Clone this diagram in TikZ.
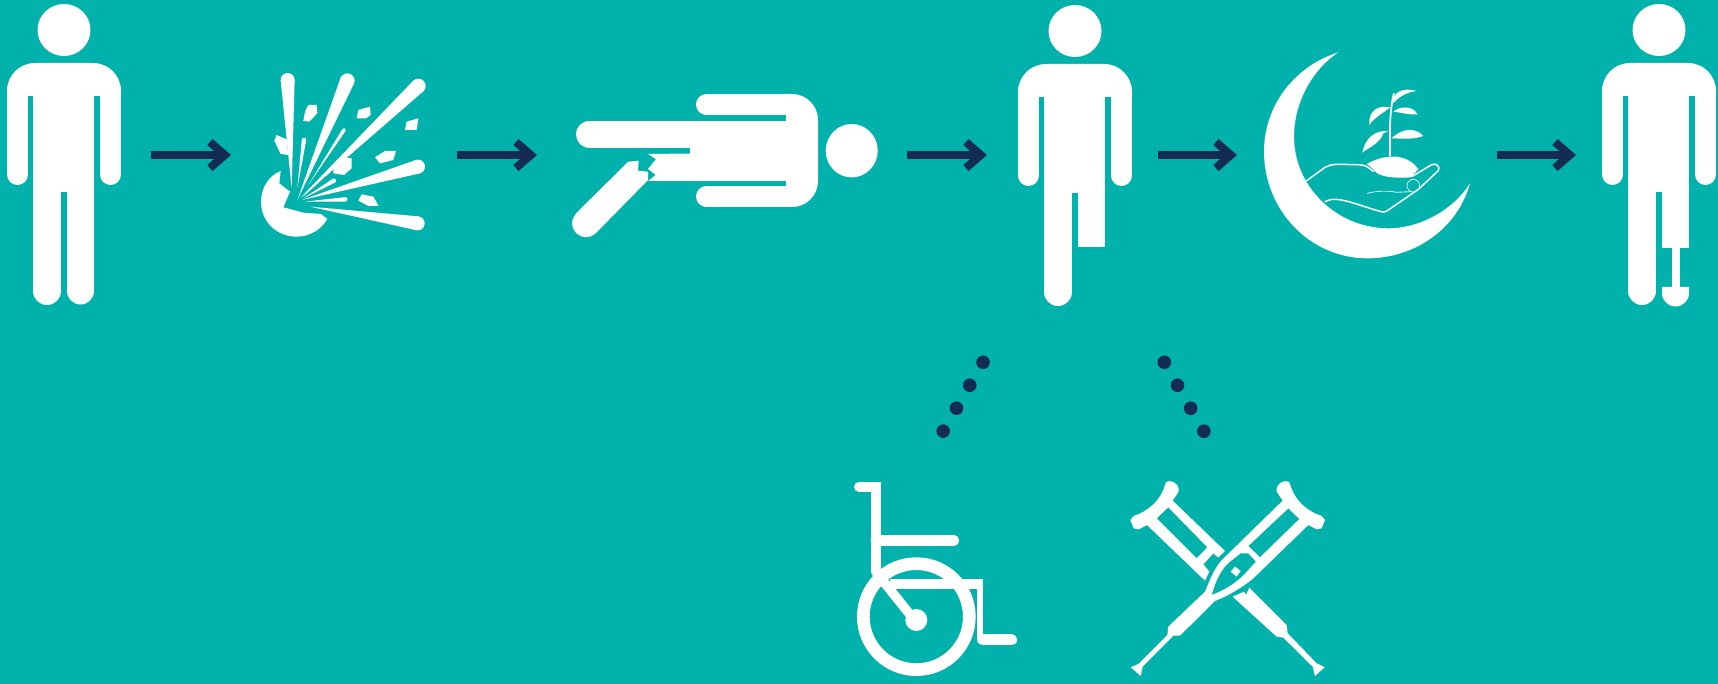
\documentclass[tikz,border=0pt]{standalone}
\usetikzlibrary{arrows.meta,calc}

\definecolor{tealback}{HTML}{00B2AB}
\definecolor{navydark}{HTML}{152C52}

\tikzset{
    iconslot/.style={inner sep=0pt, outer sep=0pt, minimum height=2pt},
    flowarrow/.style={navydark, line width=7.2pt,
        -{Straight Barb[length=15pt, width=26pt, line width=8pt]}},
    dotlink/.style={navydark, line width=13.6pt, line cap=round,
        dash pattern=on 0pt off 26.5pt},
    limb/.style={white, line cap=round},
    chairbar/.style={white, line cap=round, line width=#1},
    handline/.style={white, line width=1.5pt, line cap=round, line join=round},
    handfaint/.style={white!75!tealback, line width=0.9pt, line cap=round},
    manbase/.pic={
        \fill[white] (64,30) ellipse (26.5 and 26);
        \fill[white] (7,96) -- (7,91) .. controls (7,75.5) and (19.5,63) .. (35,63)
            -- (93,63) .. controls (108.5,63) and (121,75.5) .. (121,91) -- (121,96) -- cycle;
        \fill[white] (33,90) rectangle (94,192);
        \draw[limb, line width=21pt] (17.5,90) -- (17.5,174.5);
        \draw[limb, line width=21pt] (110.5,90) -- (110.5,174.5);
        \draw[limb, line width=28pt] (47,185) -- (47,291);
    }
}

\begin{document}
\begin{tikzpicture}[x=1pt, y=-1pt]
    \fill[tealback] (0,0) rectangle (1718,684);

    % slots around the icons of the top row, the arrows run between them
    \node[iconslot, minimum width=151pt] (man1) at (75.5,155) {};
    \node[iconslot, minimum width=226pt] (blast) at (344,155) {};
    \node[iconslot, minimum width=370pt] (victim) at (722,155) {};
    \node[iconslot, minimum width=171pt] (man2) at (1072.5,155) {};
    \node[iconslot, minimum width=260pt] (moon) at (1367,155) {};
    \node[iconslot, minimum width=142pt] (man3) at (1647,155) {};

    \draw[flowarrow] (man1.east) -- (blast.west);
    \draw[flowarrow] (blast.east) -- (victim.west);
    \draw[flowarrow] (victim.east) -- (man2.west);
    \draw[flowarrow] (man2.east) -- (moon.west);
    \draw[flowarrow] (moon.east) -- (man3.west);

    % whole man
    \pic at (0,0) {manbase};
    \draw[limb, line width=27pt] (80.5,185) -- (80.5,291);

    % explosion, in pixels of a 3x crop
    \begin{scope}[shift={(240,50)}, x=0.3333pt, y=-0.3333pt]
        \foreach \ox/\oy/\ex/\ey/\rad in {
            155/415/143/90/7, 172/415/192/270/2.2, 172/450/322/92/7.3,
            205/405/312/240/1.8, 180/445/535/108/7.3, 190/445/282/392/2.2,
            190/440/285/345/1.8, 185/450/534/350/7, 195/455/316/448/2.2,
            210/470/533/520/7} {
            \fill[white] (\ox,\oy) -- ($(\ex,\ey)!\rad pt!90:(\ox,\oy)$)
                -- ($(\ex,\ey)!\rad pt!-90:(\ox,\oy)$) -- cycle;
            \fill[white] (\ex,\ey) circle (\rad pt);
        }
        % flying pieces
        \fill[white] (205,165) -- (230,165) -- (232,190) -- (208,215) -- (190,213) -- (195,185) -- cycle;
        \fill[white] (355,180) -- (390,170) -- (392,195) -- (378,205) -- (350,205) -- cycle;
        \fill[white] (500,215) -- (535,205) -- (530,240) -- (495,240) -- cycle;
        \fill[white] (405,322) -- (435,303) -- (468,303) -- (460,330) -- (420,340) -- cycle;
        \fill[white] (280,355) -- (312,322) -- (335,325) -- (335,355) -- (312,375) -- (280,370) -- cycle;
        \fill[white] (365,433) -- (400,440) -- (416,468) -- (385,468) -- (355,452) -- cycle;
        \fill[white] (110,255) -- (140,268) -- (145,315) -- (122,312) -- (103,272) -- cycle;
        % broken ball
        \fill[white] (122,363) .. controls (85,378) and (63,415) .. (63,455)
            .. controls (63,515) and (110,560) .. (170,560)
            .. controls (208,560) and (243,540) .. (262,507)
            -- (243,492) -- (190,488) -- (130,472) -- (150,425) -- (118,400) -- cycle;
    \end{scope}

    % man lying down
    \fill[white] (851.7,150.7) ellipse (26 and 26.7);
    \fill[white] (786,94) -- (792,94) .. controls (806.4,94) and (818,105.6) .. (818,120)
        -- (818,181) .. controls (818,195.4) and (806.4,207) .. (792,207) -- (786,207) -- cycle;
    \draw[limb, line width=21pt] (706.5,104.5) -- (790,104.5);
    \draw[limb, line width=21pt] (706.5,196.5) -- (790,196.5);
    \fill[white] (690,120.7) rectangle (790,180.7);
    \draw[limb, line width=27pt] (589.5,134.3) -- (690,134.3);
    \fill[white] (648,154) -- (656,159) -- (648,169) -- (655.7,175) -- (648,181)
        -- (691,181) -- (691,153.5) -- cycle;
    \fill[white] (628.3,161.7) -- (638.7,160.7) -- (638,170.7) -- (648,171.7) -- (648,180)
        -- (595.7,233.3) -- (576,213.3) -- cycle;
    \fill[white] (586,223.3) circle (13.9);

    % man after the amputation
    \pic at (1011,1) {manbase};
    \fill[white] (1078,185) rectangle (1105,247);

    % crescent with the hand and the plant
    \begin{scope}[shift={(1250,40)}, x=0.3333pt, y=-0.3333pt]
        \fill[white] (265,37) .. controls (130,80) and (42,200) .. (42,335)
            .. controls (42,510) and (180,655) .. (352,655)
            .. controls (495,655) and (623,565) .. (660,430)
            .. controls (610,510) and (510,565) .. (415,565)
            .. controls (260,565) and (132,440) .. (132,290)
            .. controls (132,190) and (185,90) .. (265,37) -- cycle;
    \end{scope}
    \begin{scope}[shift={(1290,150)}, x=0.3333pt, y=-0.3333pt]
        \draw[handline] (50,92) -- (105,52) .. controls (115,46) and (125,44) .. (140,43)
            -- (205,44) .. controls (225,45) and (235,50) .. (250,65);
        \fill[white] (230,42) .. controls (260,25) and (290,18) .. (320,20)
            .. controls (350,24) and (372,38) .. (385,58)
            .. controls (375,68) and (368,76) .. (362,82)
            .. controls (330,84) and (290,84) .. (265,72)
            .. controls (250,62) and (245,50) .. (230,42) -- cycle;
        \draw[handline] (365,80) -- (425,44) .. controls (438,38) and (452,50) .. (445,62)
            -- (385,118) -- (295,180) .. controls (288,186) and (282,188) .. (270,184)
            .. controls (225,172) and (180,152) .. (140,148) .. controls (125,147) and (115,150) .. (105,155);
        \draw[handfaint] (370,107) circle (19);
        \draw[handfaint] (232,130) .. controls (260,122) and (300,122) .. (320,127) -- (360,125);
    \end{scope}
    \begin{scope}[shift={(1300,75)}, x=0.3333pt, y=-0.3333pt]
        \draw[white, line width=1.8pt] (270,243) -- (270,150) .. controls (272,110) and (275,80) .. (282,55);
        \fill[white] (280,85) .. controls (275,55) and (305,35) .. (350,48) .. controls (330,50) and (300,60) .. (280,85) -- cycle;
        \fill[white] (270,97) .. controls (235,90) and (205,105) .. (208,150) .. controls (225,125) and (250,115) .. (270,97) -- cycle;
        \fill[white] (280,110) .. controls (300,92) and (340,92) .. (352,118) .. controls (325,120) and (300,112) .. (280,110) -- cycle;
        \fill[white] (265,168) .. controls (225,165) and (195,190) .. (187,233) .. controls (210,215) and (240,205) .. (250,175) -- cycle;
        \fill[white] (275,190) .. controls (310,155) and (350,160) .. (370,183) .. controls (340,195) and (300,190) .. (275,190) -- cycle;
    \end{scope}

    % man with the artificial leg
    \pic at (1595,0) {manbase};
    \fill[white] (1662,185) rectangle (1689,248);
    \fill[white] (1672,248) rectangle (1680,288);
    \fill[white] (1662,287) -- (1689,287) -- (1689,293) .. controls (1689,300.5) and (1683,306.5) .. (1675.5,306.5)
        .. controls (1668,306.5) and (1662,300.5) .. (1662,293) -- cycle;

    % dots down to the wheelchair and the crutches
    \coordinate (dotschair) at (983,362.3);
    \coordinate (chairtop) at (943,431.5);
    \coordinate (dotscrutch) at (1164.3,362.3);
    \coordinate (crutchtop) at (1204,431.5);
    \draw[dotlink] (dotschair) -- (chairtop);
    \draw[dotlink] (dotscrutch) -- (crutchtop);

    % wheelchair
    \begin{scope}[shift={(840,470)}, x=0.3333pt, y=-0.3333pt]
        \draw[chairbar=10pt] (57,50) -- (107,50) -- (107,300);
        \draw[chairbar=10.5pt] (107,211) -- (342,211);
        \draw[white, line width=12.7pt] (229,440) circle (159);
        \fill[white] (229,450) circle (33);
        \draw[chairbar=9.5pt] (107,305) -- (215,440);
        \draw[white, line width=10pt] (150,342) -- (428,342);
        \draw[white, line width=5.5pt] (420,337) -- (420,510);
        \draw[chairbar=11pt] (428,510) -- (515,510);
    \end{scope}

    % crutches
    \begin{scope}[shift={(1120,470)}, x=0.3333pt, y=-0.3333pt]
        % back one, upper and lower piece
        \fill[white, even odd rule] (158,92) -- (176,65) .. controls (180,50) and (165,33) .. (148,33)
            .. controls (140,33) and (136,38) .. (136,42) .. controls (121,95) and (81,125) .. (41,138)
            -- (31,150) -- (41,175) -- (56,178) -- (81,165) -- (255,332) -- (268,305) -- (250,283)
            -- (280,250) -- (295,263) -- (315,243) -- cycle
            (110,145) -- (145,112) -- (262,232) -- (230,265) -- cycle;
        \fill[white] (338,380) -- (372,365) -- (378,375) -- (388,353) -- (500,465) -- (503,490)
            -- (590,580) -- (614,592) -- (585,618) -- (578,590) -- (490,503) -- (470,500) -- cycle;
        % front one, with its two windows and the grip
        \fill[white, even odd rule] (488,92) -- (470,65) .. controls (466,50) and (481,33) .. (498,33)
            .. controls (506,33) and (510,38) .. (510,42) .. controls (525,95) and (565,125) .. (605,138)
            -- (615,150) -- (605,175) -- (590,178) -- (565,165)
            -- (400,325) .. controls (370,350) and (330,375) .. (285,393)
            -- (180,497) -- (160,497) -- (68,590) -- (62,618) -- (32,592) -- (55,582) -- (142,495) -- (145,470)
            -- (255,365) .. controls (270,330) and (285,285) .. (318,258) -- cycle
            (505,115) -- (538,147) -- (420,262) -- (385,228) -- cycle
            (385,250) -- (408,275) -- (385,300) .. controls (355,335) and (320,358) .. (275,375)
            .. controls (285,340) and (300,300) .. (330,275) -- (362,250) -- cycle
            (345,290) -- (362,303) -- (350,320) -- (332,305) -- cycle;
    \end{scope}
\end{tikzpicture}
\end{document}
